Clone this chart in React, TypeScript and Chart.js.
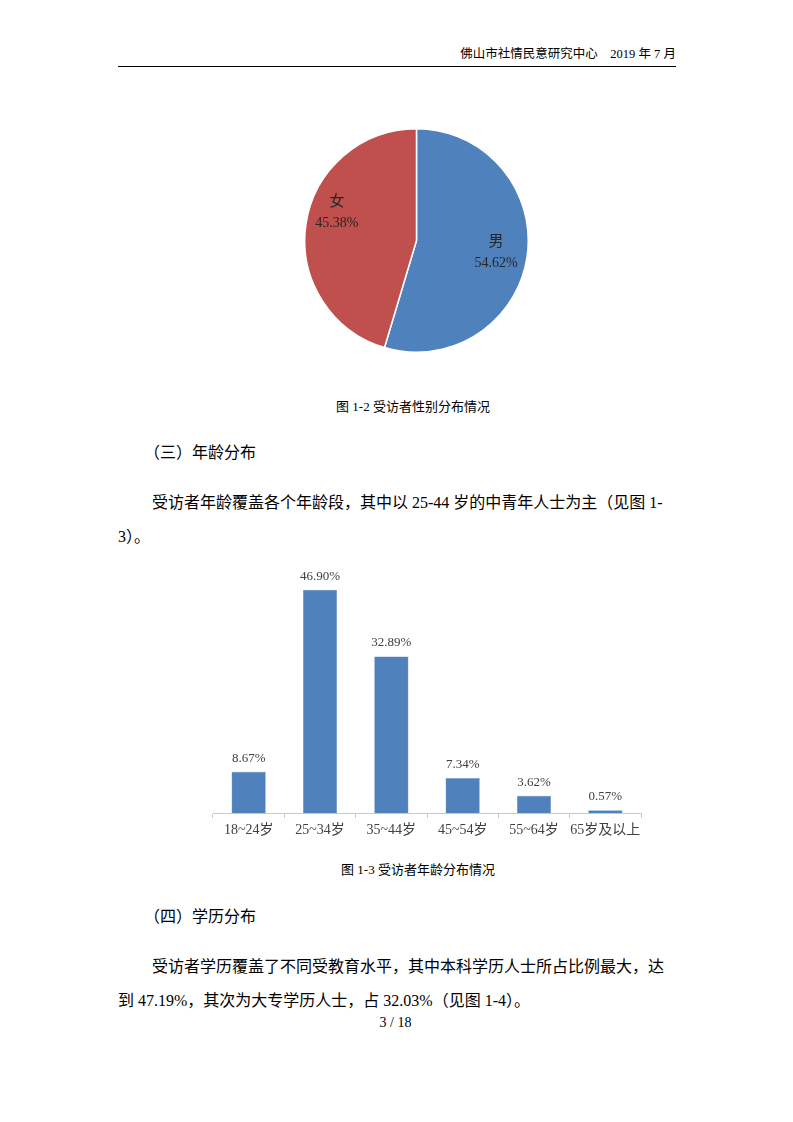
import { useEffect, useRef } from 'react';
import { Chart, registerables } from 'chart.js';

Chart.register(...registerables);

const genderLabels = ['男', '女'];
const genderValues = [54.62, 45.38];
const genderColors = ['#4F81BD', '#C0504D'];

const ageLabels = ['18~24岁', '25~34岁', '35~44岁', '45~54岁', '55~64岁', '65岁及以上'];
const ageValues = [8.67, 46.9, 32.89, 7.34, 3.62, 0.57];

const serif = '"Liberation Serif", "Noto Sans CJK SC", serif';

// labels inside the pie slices: name on top, percent below
const pieLabelPlugin = {
	id: 'pieLabels',
	afterDatasetsDraw(chart: any) {
		const { ctx } = chart;
		const meta = chart.getDatasetMeta(0);
		ctx.save();
		ctx.fillStyle = '#262626';
		ctx.textAlign = 'center';
		ctx.textBaseline = 'middle';
		meta.data.forEach((arc: any, i: number) => {
			const mid = (arc.startAngle + arc.endAngle) / 2;
			const r = arc.outerRadius * 0.72;
			const x = arc.x + Math.cos(mid) * r;
			// the left label sits a bit higher, like the original best-fit placement
			const y = arc.y + Math.sin(mid) * r - (i === 1 ? 17 : 0);
			ctx.font = `15px ${serif}`;
			ctx.fillText(genderLabels[i], x, y - 10);
			ctx.font = `14px ${serif}`;
			ctx.fillText(genderValues[i].toFixed(2) + '%', x, y + 11);
		});
		ctx.restore();
	},
};

// percent labels above the bars
const barLabelPlugin = {
	id: 'barLabels',
	afterDatasetsDraw(chart: any) {
		const { ctx } = chart;
		const meta = chart.getDatasetMeta(0);
		ctx.save();
		ctx.fillStyle = '#404040';
		ctx.font = `13px ${serif}`;
		ctx.textAlign = 'center';
		ctx.textBaseline = 'bottom';
		meta.data.forEach((bar: any, i: number) => {
			ctx.fillText(ageValues[i].toFixed(2) + '%', bar.x, bar.y - 7);
		});
		ctx.restore();
	},
};

const PieChart = () => {
	const ref = useRef<HTMLCanvasElement>(null);

	useEffect(() => {
		if (!ref.current) return;
		const chart = new Chart(ref.current, {
			type: 'pie',
			data: {
				labels: genderLabels,
				datasets: [
					{
						data: genderValues,
						backgroundColor: genderColors,
						borderColor: '#ffffff',
						borderWidth: 1.5,
					},
				],
			},
			options: {
				animation: false,
				responsive: true,
				maintainAspectRatio: false,
				layout: { padding: 0 },
				plugins: {
					legend: { display: false },
					tooltip: { enabled: false },
				},
			},
			plugins: [pieLabelPlugin],
		});
		return () => chart.destroy();
	}, []);

	return (
		<div style={{ position: 'absolute', left: 304, top: 128, width: 225, height: 225 }}>
			<canvas ref={ref} />
		</div>
	);
};

const BarChart = () => {
	const ref = useRef<HTMLCanvasElement>(null);

	useEffect(() => {
		if (!ref.current) return;
		const chart = new Chart(ref.current, {
			type: 'bar',
			data: {
				labels: ageLabels,
				datasets: [
					{
						data: ageValues,
						backgroundColor: '#4F81BD',
						borderColor: '#6F97C9',
						borderWidth: 0.5,
						categoryPercentage: 1,
						barPercentage: 0.48,
					},
				],
			},
			options: {
				animation: false,
				responsive: true,
				maintainAspectRatio: false,
				layout: { padding: { left: 13, right: 19, top: 35, bottom: 0 } },
				scales: {
					x: {
						grid: {
							offset: true,
							drawOnChartArea: false,
							drawTicks: true,
							tickLength: 5,
							color: '#c8c8c8',
						},
						border: { color: '#c8c8c8' },
						ticks: {
							color: '#404040',
							padding: 4,
							autoSkip: false,
							maxRotation: 0,
							font: { family: serif, size: 14 },
						},
						afterFit: (scale: any) => {
							scale.height = 37;
						},
					},
					y: {
						display: false,
						min: 0,
						max: 50,
					},
				},
				plugins: {
					legend: { display: false },
					tooltip: { enabled: false },
				},
			},
			plugins: [barLabelPlugin],
		});
		return () => chart.destroy();
	}, []);

	return (
		<div style={{ position: 'absolute', left: 200, top: 540, width: 460, height: 310 }}>
			<canvas ref={ref} />
		</div>
	);
};

const text = (extra: React.CSSProperties): React.CSSProperties => ({
	position: 'absolute',
	whiteSpace: 'nowrap',
	fontFamily: serif,
	color: '#000',
	lineHeight: 1,
	...extra,
});

export default function App() {
	return (
		<div
			style={{
				position: 'absolute',
				left: 0,
				top: 0,
				width: 793,
				height: 1122,
				background: '#fff',
				overflow: 'hidden',
			}}
		>
			<div style={text({ right: 117, top: 48, fontSize: 12.5 })}>佛山市社情民意研究中心　2019 年 7 月</div>
			<div style={{ position: 'absolute', left: 118, top: 66, width: 558, height: 1, background: '#000' }} />

			<PieChart />

			<div style={text({ left: 0, width: 826, textAlign: 'center', top: 400, fontSize: 13 })}>
				图 1-2 受访者性别分布情况
			</div>

			<div style={text({ left: 144, top: 445, fontSize: 16 })}>（三）年龄分布</div>

			<div style={text({ left: 152, top: 495, fontSize: 16, width: 509, textAlign: 'justify', textAlignLast: 'justify' })}>
				受访者年龄覆盖各个年龄段，其中以 25-44 岁的中青年人士为主（见图 1-
			</div>
			<div style={text({ left: 118, top: 529, fontSize: 16 })}>3）。</div>

			<BarChart />

			<div style={text({ left: 0, width: 836, textAlign: 'center', top: 863, fontSize: 13 })}>
				图 1-3 受访者年龄分布情况
			</div>

			<div style={text({ left: 144, top: 909, fontSize: 16 })}>（四）学历分布</div>

			<div style={text({ left: 152, top: 959, fontSize: 16, width: 512, textAlign: 'justify', textAlignLast: 'justify' })}>
				受访者学历覆盖了不同受教育水平，其中本科学历人士所占比例最大，达
			</div>
			<div style={text({ left: 118, top: 993, fontSize: 16 })}>
				到 47.19%，其次为大专学历人士，占 32.03%（见图 1-4）。
			</div>

			<div style={text({ left: 0, width: 791, textAlign: 'center', top: 1016, fontSize: 14 })}>3 / 18</div>
		</div>
	);
}
